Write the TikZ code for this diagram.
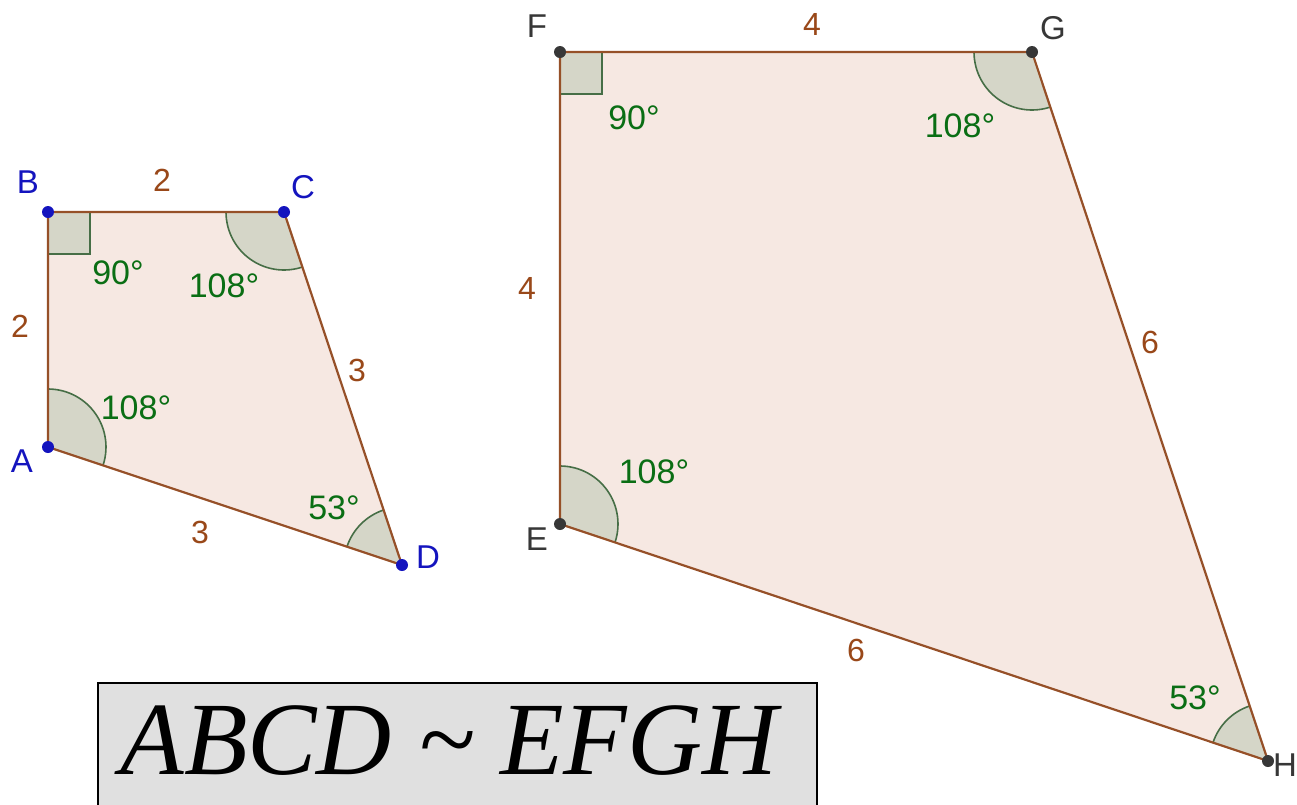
\documentclass[tikz,border=0pt]{standalone}
\usepackage{fontspec}
\setmainfont{Liberation Sans}
\newfontfamily\timesfont{Liberation Serif}
\usetikzlibrary{angles, calc}

\definecolor{edgebrown}{RGB}{150,80,40}
\definecolor{sidebrown}{RGB}{153,72,25}
\definecolor{polyfill}{RGB}{246,232,226}
\definecolor{anglefill}{RGB}{213,214,200}
\definecolor{anglegreen}{RGB}{70,110,70}
\definecolor{textgreen}{RGB}{10,110,20}
\definecolor{ptblue}{RGB}{20,20,190}
\definecolor{ptgray}{RGB}{55,55,55}
\definecolor{boxgray}{RGB}{224,224,224}

\begin{document}
\begin{tikzpicture}[x=0.5pt, y=-0.5pt,
    edge/.style = {draw=edgebrown, line width=1.1pt, line join=round},
    sector/.style = {draw=anglegreen, fill=anglefill, line width=0.8pt, angle radius=29pt},
    rightsq/.style = {draw=anglegreen, fill=anglefill, line width=0.8pt, angle radius=21pt},
    vlabel/.style = {font=\fontsize{16.5}{16.5}\selectfont, inner sep=0pt},
    slabel/.style = {font=\fontsize{16}{16}\selectfont, text=sidebrown, inner sep=0pt},
    alabel/.style = {font=\fontsize{17}{17}\selectfont, text=textgreen, inner sep=0pt},
    simbox/.style = {draw=black, fill=boxgray, line width=1pt, minimum width=359.5pt, minimum height=70pt, inner sep=0pt},
    simtext/.style = {font=\timesfont\itshape\fontsize{52}{52}\selectfont, inner sep=0pt}
]
\useasboundingbox (0,0) rectangle (1297,804);

% small quadrilateral
\coordinate (A) at (48,447);
\coordinate (B) at (48,212);
\coordinate (C) at (284,212);
\coordinate (D) at (402,565);

% large quadrilateral
\coordinate (E) at (560,524);
\coordinate (F) at (560,52);
\coordinate (G) at (1032,52);
\coordinate (H) at (1268,761);

\fill [polyfill] (A) -- (B) -- (C) -- (D) -- cycle;
\fill [polyfill] (E) -- (F) -- (G) -- (H) -- cycle;

\pic [sector] {angle = D--A--B};
\pic [sector] {angle = B--C--D};
\pic [sector] {angle = C--D--A};
\pic [rightsq] {right angle = A--B--C};
\pic [sector] {angle = H--E--F};
\pic [sector] {angle = F--G--H};
\pic [sector] {angle = G--H--E};
\pic [rightsq] {right angle = E--F--G};

\draw [edge] (A) -- (B) -- (C) -- (D) -- cycle;
\draw [edge] (E) -- (F) -- (G) -- (H) -- cycle;

\foreach \p in {A,B,C,D} \fill [ptblue] (\p) circle (3pt);
\foreach \p in {E,F,G,H} \fill [ptgray] (\p) circle (3pt);

% vertex labels
\node (lA) [vlabel, text=ptblue] at (22,461) {A};
\node (lB) [vlabel, text=ptblue] at (28,182) {B};
\node (lC) [vlabel, text=ptblue] at (303,187) {C};
\node (lD) [vlabel, text=ptblue] at (428,557) {D};
\node (lE) [vlabel, text=ptgray] at (537,539) {E};
\node (lF) [vlabel, text=ptgray] at (537,26) {F};
\node (lG) [vlabel, text=ptgray] at (1053,28) {G};
\node (lH) [vlabel, text=ptgray] at (1285,765) {H};

% side lengths
\node (sAB) [slabel] at (20,326) {2};
\node (sBC) [slabel] at (162,180) {2};
\node (sCD) [slabel] at (357,370) {3};
\node (sDA) [slabel] at (200,532) {3};
\node (sEF) [slabel] at (527,288) {4};
\node (sFG) [slabel] at (812,24) {4};
\node (sGH) [slabel] at (1150,342) {6};
\node (sHE) [slabel] at (856,650) {6};

% angle values
\node (aA) [alabel] at (136,408) {108°};
\node (aB) [alabel] at (118,273) {90°};
\node (aC) [alabel] at (224,286) {108°};
\node (aD) [alabel] at (334,508) {53°};
\node (aE) [alabel] at (654,472) {108°};
\node (aF) [alabel] at (634,118) {90°};
\node (aG) [alabel] at (960,126) {108°};
\node (aH) [alabel] at (1195,698) {53°};

\node (simframe) [simbox] at (457.5,753) {};
\node (sim) [simtext] at (449,741) {ABCD \textasciitilde\ EFGH};

\end{tikzpicture}
\end{document}
